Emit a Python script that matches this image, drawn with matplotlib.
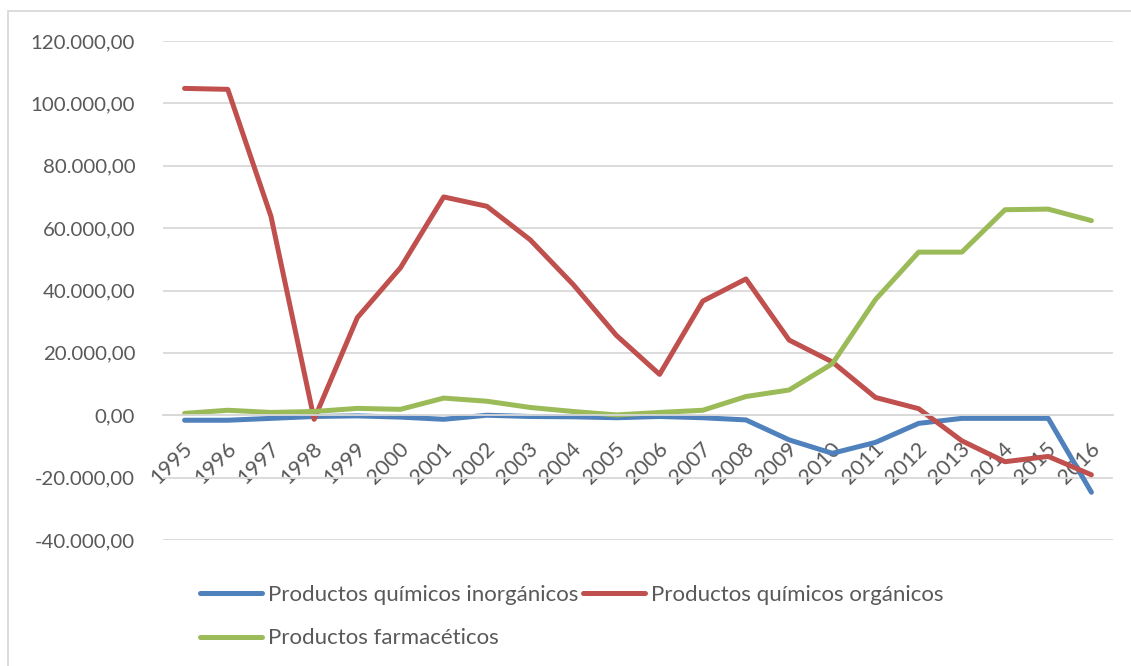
import numpy as np
import matplotlib
matplotlib.use("Agg")
from matplotlib import pyplot as plt
from matplotlib.patches import Rectangle
from matplotlib.ticker import FuncFormatter
import matplotlib.transforms as mtransforms

years = [str(y) for y in range(1995, 2017)]

inorganicos = [-1600, -1600, -1000, -400, -200, -600, -1300, 0, -400, -500, -800,
               -400, -800, -1500, -7900, -12200, -8700, -2600, -1000, -1000, -1000, -24700]
organicos = [104800, 104500, 63800, -1300, 31300, 47300, 70000, 67000, 56300, 41900, 25600,
             13100, 36600, 43700, 24100, 17100, 5700, 2100, -8200, -14900, -13200, -19100]
farmaceuticos = [600, 1600, 900, 1200, 2200, 1900, 5500, 4500, 2500, 1200, 100,
                 900, 1600, 6000, 8100, 16500, 37100, 52300, 52300, 65900, 66100, 62400]

labels = ["Productos químicos inorgánicos", "Productos químicos orgánicos",
          "Productos farmacéticos"]
colors = ["#4F81BD", "#C0504D", "#9BBB59"]

plt.rcParams['font.family'] = ['Lato', 'DejaVu Sans']
text_color = "#595959"

fig = plt.figure(figsize=(11.31, 6.66), dpi=100)
ax = fig.add_axes([163 / 1131, 1 - 540 / 666, (1113 - 163) / 1131, (540 - 41) / 666])

x = np.arange(len(years))
lines = []
for vals, lab, col in zip([inorganicos, organicos, farmaceuticos], labels, colors):
    ln, = ax.plot(x, vals, color=col, lw=3.6, label=lab, solid_capstyle='round',
                  solid_joinstyle='round')
    lines.append(ln)

ax.set_xlim(-0.5, len(years) - 0.5)
ax.set_ylim(-40000, 120000)
ax.set_yticks(np.arange(-40000, 120001, 20000))
ax.yaxis.set_major_formatter(FuncFormatter(
    lambda v, p: f"{v:,.2f}".replace(",", "X").replace(".", ",").replace("X", ".")))
ax.grid(axis='y', color="#D9D9D9", lw=1.3)
ax.set_axisbelow(True)
for s in ["top", "right", "left"]:
    ax.spines[s].set_visible(False)
ax.spines["bottom"].set_position(("data", 0))
ax.spines["bottom"].set_color("#D9D9D9")
ax.spines["bottom"].set_linewidth(1.3)

ax.set_xticks(x)
ax.set_xticklabels(years, rotation=45, ha='right', va='center', rotation_mode='anchor')
ax.tick_params(axis='both', length=0, labelcolor=text_color)
ax.tick_params(axis='y', pad=20, labelsize=14.7)
ax.tick_params(axis='x', pad=22, labelsize=15.5)
offset = mtransforms.ScaledTranslation(5 / 100, 0, fig.dpi_scale_trans)
for t in ax.get_xticklabels():
    t.set_transform(t.get_transform() + offset)

# orden para que la leyenda quede por filas
handles = [lines[0], lines[2], lines[1]]
fig.legend(handles, [h.get_label() for h in handles], ncol=2, frameon=False,
           loc='upper left', bbox_to_anchor=(200 / 1131, 1 - 585 / 666),
           fontsize=16, labelcolor=text_color, handlelength=2.8, handletextpad=0.25,
           columnspacing=0.22, labelspacing=1.05, borderpad=0, borderaxespad=0)

fig.patches.append(Rectangle((8 / 1131, -0.1), 1.2, 1.1 - 11 / 666,
                             transform=fig.transFigure, fill=False,
                             edgecolor="#D9D9D9", lw=1.3))

fig.savefig("out.png", dpi=100)
